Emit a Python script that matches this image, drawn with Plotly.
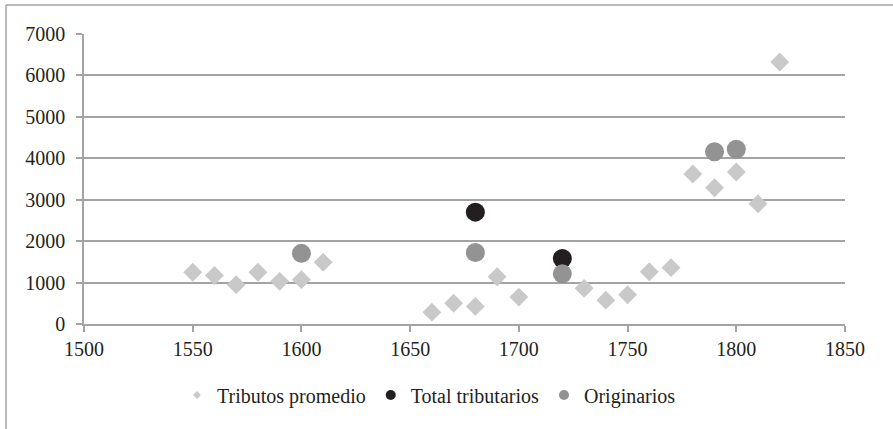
import plotly.graph_objects as go

# Data
years_trib = [1550, 1560, 1570, 1580, 1590, 1600, 1610, 1660, 1670, 1680, 1690, 1700,
              1730, 1740, 1750, 1760, 1770, 1780, 1790, 1800, 1810, 1820]
tributos_promedio = [1250, 1170, 950, 1250, 1030, 1070, 1490, 285, 500, 425, 1140, 650,
                     860, 575, 705, 1260, 1360, 3620, 3290, 3670, 2900, 6325]
years_total = [1680, 1720]
total_tributarios = [2700, 1580]
years_orig = [1600, 1680, 1720, 1790, 1800]
originarios = [1705, 1725, 1210, 4160, 4220]

x_ticks = [1500, 1550, 1600, 1650, 1700, 1750, 1800, 1850]
y_ticks = [0, 1000, 2000, 3000, 4000, 5000, 6000, 7000]

C_DIAMOND = "#c9c9c9"
C_BLACK = "#231f20"
C_GRAY = "#939393"
C_GRID = "#a3a3a3"
FONT = "Liberation Serif, Times New Roman, Times, serif"

W, H = 893, 429
L, R, T, B = 84, 48, 34, 105
pw, ph = W - L - R, H - T - B

fig = go.Figure()
fig.add_trace(go.Scatter(x=years_trib, y=tributos_promedio, mode="markers",
                         marker=dict(symbol="diamond", size=14.5, color=C_DIAMOND),
                         showlegend=False))
fig.add_trace(go.Scatter(x=years_total, y=total_tributarios, mode="markers",
                         marker=dict(symbol="circle", size=19, color=C_BLACK),
                         showlegend=False))
fig.add_trace(go.Scatter(x=years_orig, y=originarios, mode="markers",
                         marker=dict(symbol="circle", size=19, color=C_GRAY),
                         showlegend=False))
# legend entries (smaller symbols)
fig.add_trace(go.Scatter(x=[None], y=[None], mode="markers", name="Tributos promedio",
                         marker=dict(symbol="diamond", size=6, color=C_DIAMOND)))
fig.add_trace(go.Scatter(x=[None], y=[None], mode="markers", name="Total tributarios",
                         marker=dict(symbol="circle", size=10, color=C_BLACK)))
fig.add_trace(go.Scatter(x=[None], y=[None], mode="markers", name="Originarios",
                         marker=dict(symbol="circle", size=10, color=C_GRAY)))

def px_x(p):
    return (p - L) / pw

def px_y(p):
    return (H - B - p) / ph

fig.update_layout(
    width=W, height=H,
    margin=dict(l=L, r=R, t=T, b=B),
    paper_bgcolor="white", plot_bgcolor="white",
    font=dict(family=FONT, size=20, color="#231f20"),
    xaxis=dict(range=[1500, 1850], tickvals=x_ticks, showgrid=False,
               showline=True, linecolor=C_GRID, linewidth=1.5,
               ticks="outside", ticklen=6, tickcolor=C_GRID, tickwidth=1.5,
               tickfont=dict(family=FONT, size=20, color="#231f20"),
               zeroline=False, fixedrange=True),
    yaxis=dict(range=[0, 7000], tickvals=y_ticks, showgrid=True,
               gridcolor=C_GRID, gridwidth=1.5,
               showline=True, linecolor=C_GRID, linewidth=1.5,
               ticks="outside", ticklen=6, tickcolor=C_GRID, tickwidth=1.5,
               ticklabelstandoff=7,
               tickfont=dict(family=FONT, size=20, color="#231f20"),
               zeroline=False, fixedrange=True),
    legend=dict(orientation="h", x=px_x(429), xanchor="center", y=px_y(395), yanchor="middle",
                font=dict(family=FONT, size=20, color="#231f20"),
                bgcolor="rgba(0,0,0,0)"),
    shapes=[
        dict(type="line", xref="paper", yref="paper",
             x0=px_x(6), x1=px_x(6), y0=px_y(5), y1=px_y(H),
             line=dict(color=C_GRID, width=1.5)),
        dict(type="line", xref="paper", yref="paper",
             x0=px_x(6), x1=px_x(W), y0=px_y(5), y1=px_y(5),
             line=dict(color=C_GRID, width=1.5)),
    ],
)

fig.write_html("out.html", config={"displayModeBar": False},
               post_script="document.body.style.margin='0';")
